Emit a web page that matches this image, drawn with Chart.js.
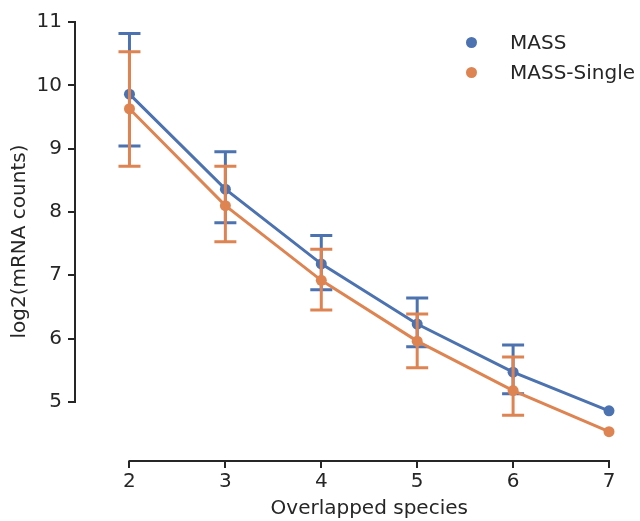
<!DOCTYPE html>
<html>
<head>
<meta charset="utf-8">
<script src="https://cdn.jsdelivr.net/npm/chart.js@4/dist/chart.umd.min.js"></script>
<style>
  html, body { margin: 0; padding: 0; background: #fff; }
  #wrap { width: 640px; height: 521px; }
</style>
</head>
<body>
<div id="wrap"><canvas id="chart" width="640" height="521"></canvas></div>
<script>
// values
const species = [2, 3, 4, 5, 6, 7];
const massMean = [9.86, 8.36, 7.18, 6.23, 5.47, 4.86];
const massLow = [9.04, 7.83, 6.77, 5.87, 5.13, null];
const massHigh = [10.82, 8.95, 7.63, 6.64, 5.90, null];
const singleMean = [9.63, 8.10, 6.92, 5.96, 5.18, 4.53];
const singleLow = [8.72, 7.53, 6.45, 5.54, 4.79, null];
const singleHigh = [10.53, 8.72, 7.41, 6.39, 5.71, null];
const yTickValues = [5, 6, 7, 8, 9, 10, 11];

const blue = '#4c72b0';
const orange = '#dd8452';
const ink = '#262626';
const fontFamily = '"DejaVu Sans", sans-serif';

function points(ys) {
    return species.map((x, i) => ({ x: x, y: ys[i] }));
}

// error bars, drawn just before each dataset's own line
const errorBars = {
    id: 'errorBars',
    beforeDatasetDraw(chart, args) {
        const ds = chart.data.datasets[args.index];
        const xs = chart.scales.x, ys = chart.scales.y;
        const ctx = chart.ctx;
        ctx.save();
        ctx.strokeStyle = ds.borderColor;
        ctx.lineWidth = 3;
        ctx.lineCap = 'butt';
        species.forEach((s, i) => {
            if (ds.low[i] == null) return;
            const px = xs.getPixelForValue(s);
            const lo = ys.getPixelForValue(ds.low[i]);
            const hi = ys.getPixelForValue(ds.high[i]);
            ctx.beginPath();
            ctx.moveTo(px, lo); ctx.lineTo(px, hi);
            ctx.moveTo(px - 11, lo); ctx.lineTo(px + 11, lo);
            ctx.moveTo(px - 11, hi); ctx.lineTo(px + 11, hi);
            ctx.stroke();
        });
        ctx.restore();
    }
};

// offset axis spines, x title and legend
const decorations = {
    id: 'decorations',
    afterDraw(chart) {
        const ctx = chart.ctx;
        const xs = chart.scales.x, ys = chart.scales.y;
        const area = chart.chartArea;
        ctx.save();
        ctx.strokeStyle = ink;
        ctx.lineWidth = 2;
        ctx.beginPath();
        ctx.moveTo(xs.getPixelForValue(species[0]) - 1, area.bottom);
        ctx.lineTo(xs.getPixelForValue(species[species.length - 1]) + 1, area.bottom);
        ctx.moveTo(area.left, ys.getPixelForValue(yTickValues[0]) + 1);
        ctx.lineTo(area.left, ys.getPixelForValue(yTickValues[yTickValues.length - 1]) - 1);
        ctx.stroke();

        ctx.fillStyle = ink;
        ctx.font = '20px ' + fontFamily;
        ctx.textAlign = 'center';
        ctx.textBaseline = 'middle';
        const midX = (xs.getPixelForValue(species[0]) + xs.getPixelForValue(species[species.length - 1])) / 2;
        ctx.fillText('Overlapped species', midX, 509);

        ctx.textAlign = 'left';
        chart.data.datasets.forEach((ds, i) => {
            const y = 42.5 + i * 30;
            ctx.fillStyle = ds.borderColor;
            ctx.beginPath();
            ctx.arc(471.5, y, 5.5, 0, Math.PI * 2);
            ctx.fill();
            ctx.fillStyle = ink;
            ctx.fillText(ds.label, 510, y + 1);
        });
        ctx.restore();
    }
};

const tickFont = { family: fontFamily, size: 20 };

new Chart(document.getElementById('chart'), {
    type: 'line',
    data: {
        datasets: [
            {
                label: 'MASS',
                data: points(massMean),
                low: massLow,
                high: massHigh,
                borderColor: blue,
                backgroundColor: blue,
                borderWidth: 3,
                pointRadius: 5.5,
                pointBorderWidth: 0,
                clip: false,
                order: 1
            },
            {
                label: 'MASS-Single',
                data: points(singleMean),
                low: singleLow,
                high: singleHigh,
                borderColor: orange,
                backgroundColor: orange,
                borderWidth: 3,
                pointRadius: 5.5,
                pointBorderWidth: 0,
                clip: false,
                order: 0
            }
        ]
    },
    options: {
        responsive: false,
        animation: false,
        events: [],
        layout: { padding: { top: 22, right: 31, left: 0, bottom: 0 } },
        plugins: {
            legend: { display: false },
            tooltip: { enabled: false }
        },
        scales: {
            x: {
                type: 'linear',
                min: 1.432,
                max: 7,
                afterBuildTicks: (scale) => { scale.ticks = species.map(v => ({ value: v })); },
                afterFit: (scale) => { scale.height = 60; },
                border: { display: false },
                grid: { drawOnChartArea: false, drawTicks: true, tickLength: 7, color: ink, lineWidth: 2 },
                ticks: { color: ink, font: tickFont, padding: 2, maxRotation: 0 }
            },
            y: {
                min: 4.067,
                max: 11,
                afterBuildTicks: (scale) => { scale.ticks = yTickValues.map(v => ({ value: v })); },
                afterFit: (scale) => { scale.width = 75; },
                border: { display: false },
                grid: { drawOnChartArea: false, drawTicks: true, tickLength: 7, color: ink, lineWidth: 2 },
                ticks: { color: ink, font: tickFont, padding: 6 },
                title: {
                    display: true,
                    text: 'log2(mRNA counts)',
                    color: ink,
                    font: { family: fontFamily, size: 20 },
                    padding: { top: 8, bottom: 0 }
                }
            }
        }
    },
    plugins: [errorBars, decorations]
});
</script>
</body>
</html>
